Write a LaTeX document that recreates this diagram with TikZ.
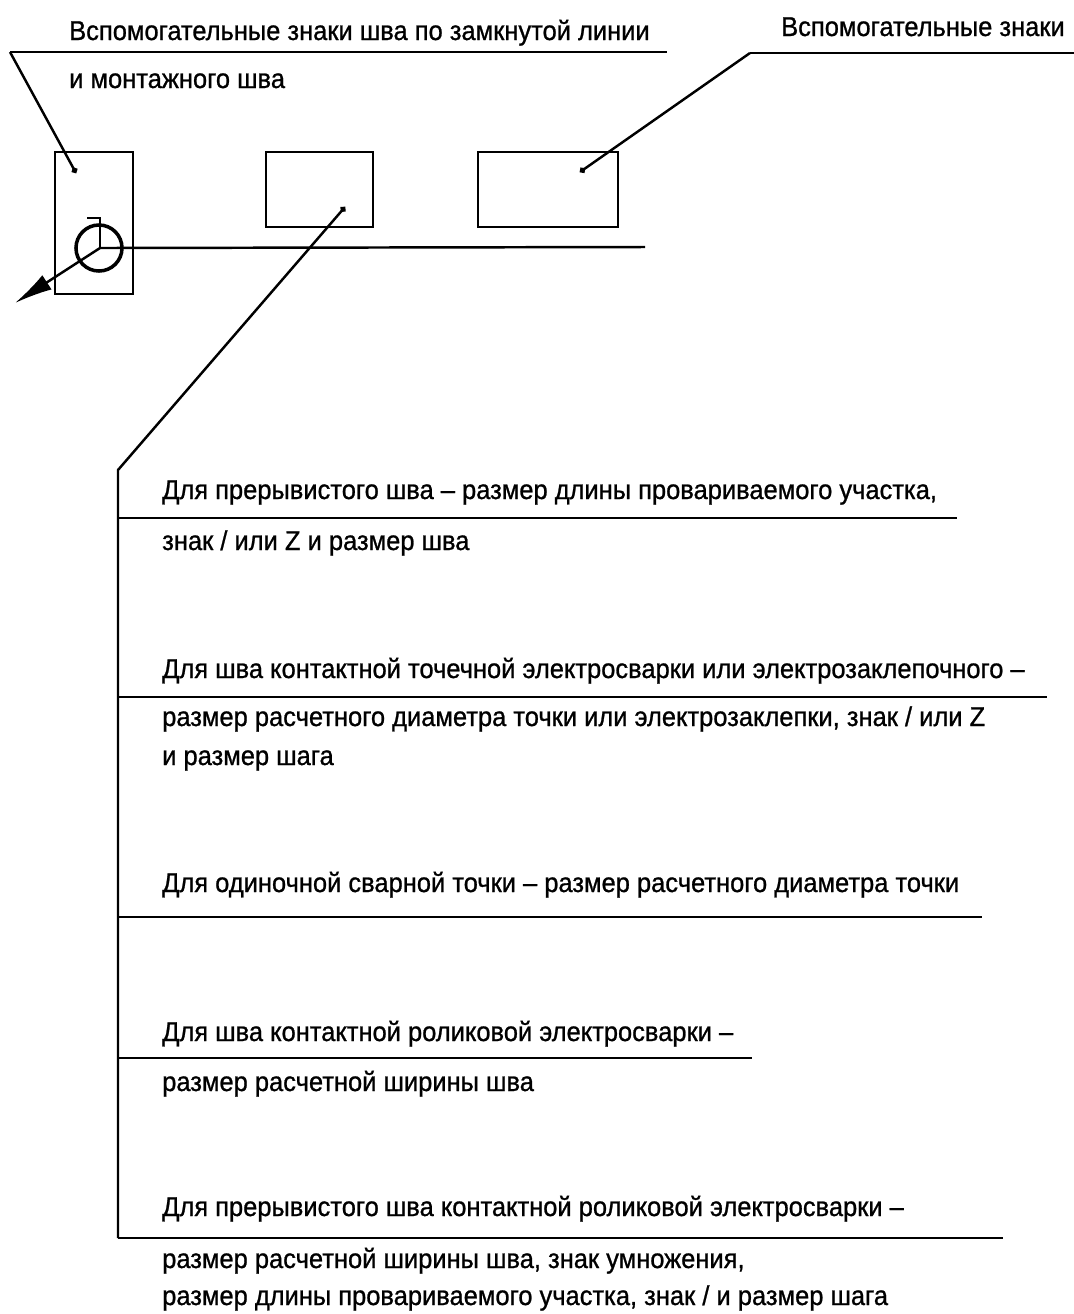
\documentclass[tikz,border=0pt]{standalone}
\usepackage{fontspec}
\setmainfont[FakeBold=0.9,FakeStretch=0.935]{Liberation Sans}
\usetikzlibrary{arrows.meta}
\tikzset{
  fig/.style={font=\fontsize{7.75}{8}\selectfont,line width=0.7pt},
  lbl/.style={anchor=base west,inner sep=0pt},
  ln/.style={line width=0.7pt},
  lnb/.style={-{Latex[length=3.8mm,width=1.7mm]},line width=0.7pt},
  dotted end/.style={-{Circle[length=0.6mm]}},
}
\begin{document}
\begin{tikzpicture}[fig,x=0.01cm,y=-0.01cm]
\useasboundingbox (0,0) rectangle (1074,1314);

% ------------------------------------------------ 1: the upper labels
\node[lbl] (top1) at (68,40) {Вспомогательные знаки шва по замкнутой линии};
\node[lbl] (top2) at (68,88) {и монтажного шва};
\node[lbl] (top3) at (780,36) {Вспомогательные знаки};
\coordinate (shelfA) at (10,52);
\coordinate (shelfAend) at (667,52);
\coordinate (shelfB) at (750,53);
\coordinate (shelfBend) at (1074,53);
\draw[ln] (shelfA) -- (shelfAend);
\draw[ln] (shelfB) -- (shelfBend);

% ------------------------------------------------ 2: the weld symbol
\node[draw,ln,minimum width=0.78cm,minimum height=1.42cm,inner sep=0pt] (boxA) at (94,223) {};
\node[draw,ln,minimum width=1.07cm,minimum height=0.75cm,inner sep=0pt] (boxB) at (319.5,189.5) {};
\node[draw,ln,minimum width=1.40cm,minimum height=0.75cm,inner sep=0pt] (boxC) at (548,189.5) {};
\coordinate (base) at (100,248);
\coordinate (baseend) at (645,247);
\coordinate (flagtop) at (100,218);
\coordinate (flagend) at (87,218);
\coordinate (tip) at (15,303);
\node[draw,circle,line width=1pt,minimum size=0.46cm,inner sep=0pt] (ring) at (99,248) {};
\draw[ln] (base) -- (baseend);
\draw[ln] (base) -- (flagtop) -- (flagend);
\draw[lnb] (base) -- (tip);

% ------------------------------------------------ 3: the leaders
\coordinate (dotA) at (76,173);
\coordinate (dotB) at (345,207);
\coordinate (dotC) at (580,172);
\coordinate (bend) at (118,470);
\coordinate (foot) at (118,1238);
\draw[ln,dotted end] (shelfA) -- (dotA);
\draw[ln,dotted end] (shelfB) -- (dotC);
\draw[ln,dotted end] (foot) -- (bend) -- (dotB);

% ------------------------------------------------ 4: the lower labels
\foreach \y/\t [count=\n from 1] in {%
  499/{Для прерывистого шва -- размер длины провариваемого участка,},
  550/{знак / или Z и размер шва},
  678/{Для шва контактной точечной электросварки или электрозаклепочного --},
  726/{размер расчетного диаметра точки или электрозаклепки, знак / или Z},
  765/{и размер шага},
  892/{Для одиночной сварной точки -- размер расчетного диаметра точки},
  1041/{Для шва контактной роликовой электросварки --},
  1091/{размер расчетной ширины шва},
  1216/{Для прерывистого шва контактной роликовой электросварки --},
  1268/{размер расчетной ширины шва, знак умножения,},
  1305/{размер длины провариваемого участка, знак / и размер шага}}
  {\node[lbl] (note\n) at (161,\y) {\t};}

\foreach \y/\e [count=\n from 1] in {518/957,697/1047,917/982,1058/752,1238/1003}{
  \coordinate (rowa\n) at (118,\y);
  \coordinate (rowb\n) at (\e,\y);
  \draw[ln] (rowa\n) -- (rowb\n);
}

\end{tikzpicture}
\end{document}
